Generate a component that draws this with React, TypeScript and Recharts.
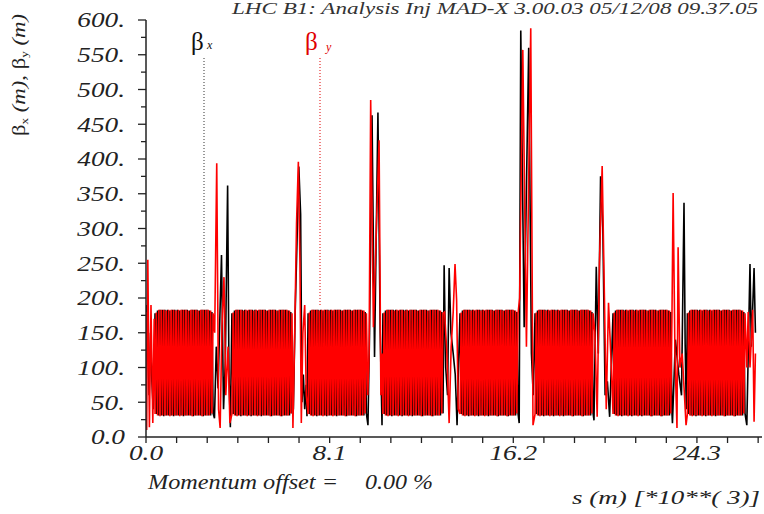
import React from "react";
import { LineChart, Line, XAxis, YAxis } from "recharts";

// ---- axis ticks / labels ----
const xTicks = [0, 1.35, 2.7, 4.05, 5.4, 6.75, 8.1, 9.45, 10.8, 12.15, 13.5, 14.85, 16.2, 17.55, 18.9, 20.25, 21.6, 22.95, 24.3, 25.65, 27.0];
const xLabelValues = [0, 8.1, 16.2, 24.3];
const xLabels = ["0.0", "8.1", "16.2", "24.3"];
const yTicks = [0, 25, 50, 75, 100, 125, 150, 175, 200, 225, 250, 275, 300, 325, 350, 375, 400, 425, 450, 475, 500, 525, 550, 575, 600];
const yLabelValues = [0, 50, 100, 150, 200, 250, 300, 350, 400, 450, 500, 550, 600];
const yLabels = ["0.0", "50.", "100.", "150.", "200.", "250.", "300.", "350.", "400.", "450.", "500.", "550.", "600."];

// ---- arcs (s in km): start / end of the 8 arcs ----
const arcSpans: [number, number][] = [
  [0.40, 2.96], [3.79, 6.44], [7.15, 9.72], [10.45, 13.10],
  [13.85, 16.41], [17.16, 19.72], [20.60, 23.20], [23.88, 26.42],
];
// beta values of the arc FODO cells, one value per half cell (m)
const arcBx = [178, 33, 182, 31, 183, 31, 183, 30, 183, 31, 183, 31, 182, 31, 183, 30, 183, 31, 183, 31, 182, 31, 183, 30,
  183, 31, 183, 31, 182, 31, 183, 30, 183, 31, 183, 31, 182, 31, 183, 30, 183, 31, 183, 31, 182, 31, 180, 34];
const arcBy = [33, 179, 31, 183, 30, 183, 31, 183, 31, 182, 31, 183, 30, 183, 31, 183, 31, 182, 31, 183, 30, 183, 31, 183,
  31, 183, 31, 182, 31, 183, 30, 183, 31, 183, 31, 182, 31, 183, 30, 183, 31, 183, 31, 183, 31, 182, 34, 178];

// ---- insertion regions [s, beta] ----
const irBx: [number, number][][] = [
  [[0.00, 95], [0.04, 190], [0.09, 120], [0.14, 60], [0.20, 150], [0.26, 80], [0.32, 40]],
  [[3.02, 27], [3.10, 130], [3.18, 70], [3.26, 175], [3.33, 262], [3.42, 40], [3.50, 110], [3.60, 362], [3.66, 90], [3.72, 14]],
  [[6.50, 40], [6.58, 180], [6.66, 280], [6.74, 389], [6.82, 320], [6.88, 50], [6.94, 90], [7.00, 40], [7.06, 75], [7.10, 30]],
  [[9.79, 17], [9.86, 150], [9.97, 463], [10.08, 115], [10.23, 467], [10.33, 150], [10.41, 17]],
  [[13.15, 247], [13.22, 100], [13.30, 60], [13.37, 243], [13.45, 150], [13.55, 120], [13.64, 90], [13.72, 17], [13.79, 110]],
  [[16.46, 20], [16.53, 585], [16.68, 158], [16.88, 560], [17.00, 120], [17.08, 60]],
  [[19.76, 24], [19.86, 245], [19.95, 120], [20.05, 375], [20.15, 300], [20.25, 60], [20.35, 80], [20.45, 29], [20.52, 100]],
  [[23.22, 20], [23.35, 140], [23.50, 90], [23.62, 60], [23.73, 337], [23.78, 135], [23.83, 40]],
  [[26.50, 17], [26.64, 249], [26.70, 130], [26.82, 243], [26.88, 150]],
];
const irBy: [number, number][][] = [
  [[0.00, 180], [0.03, 10], [0.08, 255], [0.15, 14], [0.22, 190], [0.30, 20], [0.36, 170]],
  [[3.03, 150], [3.12, 394], [3.20, 40], [3.27, 13], [3.35, 160], [3.44, 230], [3.52, 60], [3.62, 130], [3.70, 20]],
  [[6.48, 13], [6.56, 150], [6.64, 308], [6.72, 396], [6.79, 250], [6.85, 20], [6.92, 150], [7.00, 190], [7.07, 60]],
  [[9.78, 60], [9.84, 120], [9.91, 485], [10.03, 158], [10.28, 427], [10.36, 60], [10.41, 120]],
  [[13.17, 180], [13.27, 120], [13.37, 20], [13.46, 130], [13.55, 180], [13.63, 249], [13.70, 197], [13.77, 40]],
  [[16.48, 200], [16.62, 557], [16.78, 130], [16.97, 588], [17.07, 17]],
  [[19.80, 150], [19.90, 29], [20.00, 250], [20.12, 390], [20.22, 200], [20.30, 40], [20.40, 193], [20.50, 120]],
  [[23.25, 351], [23.33, 120], [23.42, 13], [23.47, 273], [23.55, 100], [23.65, 120], [23.75, 60], [23.82, 17]],
  [[26.50, 100], [26.56, 180], [26.64, 100], [26.76, 183], [26.82, 22], [26.88, 120]],
];

function buildSeries(ir: [number, number][][], arc: number[]) {
  const pts: { s: number; b: number }[] = [];
  for (let k = 0; k < ir.length; k++) {
    ir[k].forEach(([s, b]) => pts.push({ s, b }));
    if (k < arcSpans.length) {
      const [a0, a1] = arcSpans[k];
      arc.forEach((b, i) => pts.push({ s: a0 + ((a1 - a0) * i) / (arc.length - 1), b }));
    }
  }
  return pts;
}

const bxData = buildSeries(irBx, arcBx);
const byData = buildSeries(irBy, arcBy);

const FONT = "'Liberation Serif', 'Times New Roman', serif";
const AX = "#222";

const near = (arr: number[], v: number) => arr.findIndex((m) => Math.abs(m - v) < 1e-6);

const BottomTick = (p: any) => {
  const { x, y, payload } = p;
  const idx = near(xLabelValues, payload.value);
  return (
    <g>
      <line x1={x} x2={x} y1={y} y2={y + 6} stroke={AX} strokeWidth={1.3} />
      {idx >= 0 && (
        <text transform={`translate(${x},${y + 23}) scale(1.3,1)`} textAnchor="middle" fontFamily={FONT}
          fontStyle="italic" fontSize={21} fill="#222">{xLabels[idx]}</text>
      )}
    </g>
  );
};
const TopTick = (p: any) => {
  const { x, y } = p;
  return <line x1={x} x2={x} y1={y} y2={y + 5} stroke={AX} strokeWidth={1.3} />;
};
const LeftTick = (p: any) => {
  const { x, y, payload } = p;
  const idx = near(yLabelValues, payload.value);
  const len = idx >= 0 ? 8 : 5;
  return (
    <g>
      <line x1={x - len} x2={x} y1={y} y2={y} stroke={AX} strokeWidth={1.3} />
      {idx >= 0 && (
        <text transform={`translate(${x - 21},${y}) scale(1.3,1)`} textAnchor="end" dy="0.35em" fontFamily={FONT}
          fontStyle="italic" fontSize={21} fill="#222">{yLabels[idx]}</text>
      )}
    </g>
  );
};
const RightTick = (p: any) => {
  const { x, y, payload } = p;
  const len = near(yLabelValues, payload.value) >= 0 ? 6 : 4;
  return <line x1={x - len} x2={x} y1={y} y2={y} stroke={AX} strokeWidth={1.3} />;
};

export default function App() {
  const axisLine = { stroke: AX, strokeWidth: 1.5 };
  return (
    <div style={{ position: "absolute", left: 0, top: 0, width: 764, height: 514, background: "#fff" }}>
      <LineChart width={764} height={514} margin={{ top: 20, right: 2, bottom: 0, left: 0 }}>
        <XAxis dataKey="s" type="number" domain={[0, 27.17]} ticks={xTicks} interval={0} height={77}
          tickSize={0} tickMargin={0} tickLine={false} axisLine={axisLine} tick={<BottomTick />} allowDataOverflow />
        <XAxis xAxisId="t" orientation="top" dataKey="s" type="number" domain={[0, 27.17]} ticks={xTicks} interval={0}
          height={0} tickSize={0} tickMargin={0} tickLine={false} axisLine={axisLine} tick={<TopTick />} allowDataOverflow />
        <YAxis type="number" domain={[0, 600]} ticks={yTicks} interval={0} width={146}
          tickSize={0} tickMargin={0} tickLine={false} axisLine={axisLine} tick={<LeftTick />} allowDataOverflow />
        <YAxis yAxisId="r" orientation="right" type="number" domain={[0, 600]} ticks={yTicks} interval={0} width={0}
          tickSize={0} tickMargin={0} tickLine={false} axisLine={axisLine} tick={<RightTick />} allowDataOverflow />
        <Line data={bxData} dataKey="b" type="linear" stroke="#000" strokeWidth={1.6} dot={false} isAnimationActive={false} />
        <Line data={byData} dataKey="b" type="linear" stroke="#ff0000" strokeWidth={1.6} dot={false} isAnimationActive={false} />
      </LineChart>
      <svg width={764} height={514} style={{ position: "absolute", left: 0, top: 0, pointerEvents: "none" }}>
        <text x={232} y={14} fontFamily={FONT} fontStyle="italic" fontSize={17} fill="#333" textLength={526}
          lengthAdjust="spacingAndGlyphs">LHC B1: Analysis Inj     MAD-X 3.00.03  05/12/08 09.37.05</text>
        <text transform="translate(25,75) rotate(-90)" textAnchor="middle" fontFamily={FONT} fontSize={19} fill="#222"
          textLength={122} lengthAdjust="spacingAndGlyphs">
          β<tspan fontSize={11} dy={3}>x</tspan><tspan dy={-3} fontStyle="italic"> (m)</tspan>, β<tspan fontSize={11} dy={3}>y</tspan><tspan dy={-3} fontStyle="italic"> (m)</tspan>
        </text>
        <text x={191} y={50} fontFamily={FONT} fontSize={25} fill="#111">β</text>
        <text x={207} y={49} fontFamily={FONT} fontStyle="italic" fontSize={12} fill="#111">x</text>
        <line x1={204} x2={204} y1={58} y2={307} stroke="#333" strokeWidth={1} strokeDasharray="1 2" />
        <text x={305} y={50} fontFamily={FONT} fontSize={25} fill="#e00000">β</text>
        <text x={326} y={51} fontFamily={FONT} fontStyle="italic" fontSize={12} fill="#e00000">y</text>
        <line x1={320} x2={320} y1={58} y2={305} stroke="#e00000" strokeWidth={1} strokeDasharray="1 2" />
        <text x={148} y={489} fontFamily={FONT} fontStyle="italic" fontSize={20} fill="#222" textLength={190}
          lengthAdjust="spacingAndGlyphs">Momentum offset =</text>
        <text x={365} y={489} fontFamily={FONT} fontStyle="italic" fontSize={20} fill="#222" textLength={68}
          lengthAdjust="spacingAndGlyphs">0.00 %</text>
        <text x={572} y={504} fontFamily={FONT} fontStyle="italic" fontSize={19} fill="#222" textLength={188}
          lengthAdjust="spacingAndGlyphs">s (m)   [*10**( 3)]</text>
      </svg>
    </div>
  );
}
